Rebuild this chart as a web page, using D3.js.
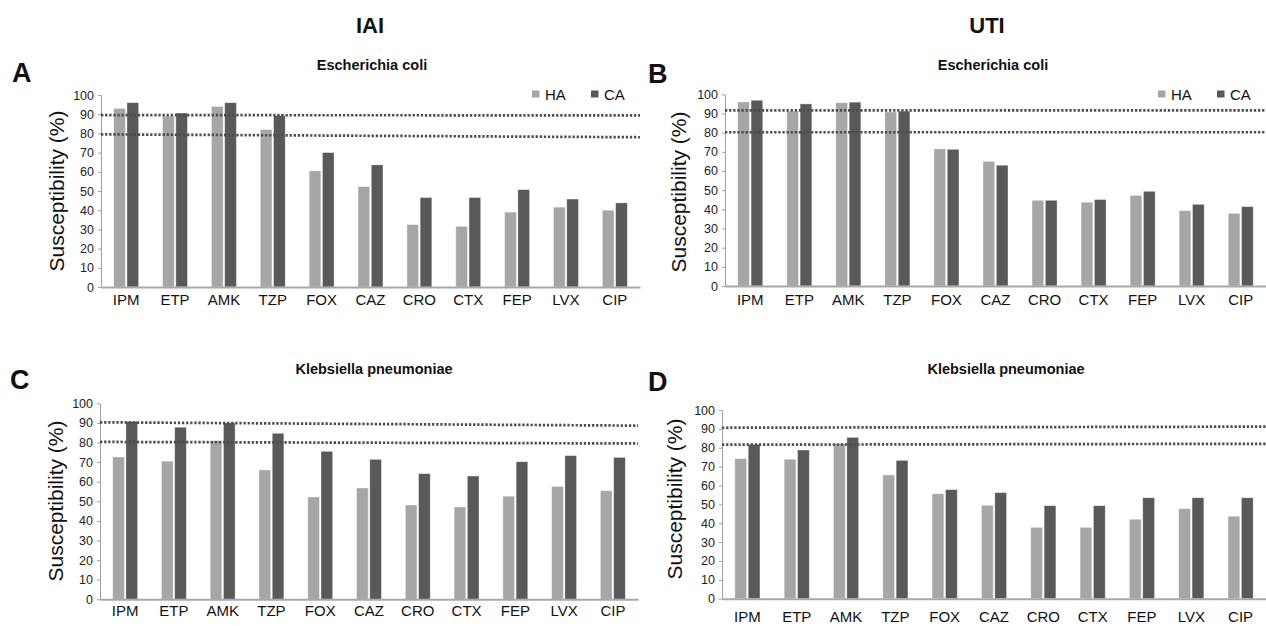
<!DOCTYPE html>
<html>
<head>
<meta charset="utf-8">
<script src="https://cdn.jsdelivr.net/npm/d3@7"></script>
<style>
  body { margin: 0; background: #fff; }
  text { font-family: "Liberation Sans", Arial, sans-serif; }
</style>
</head>
<body>
<svg id="chart" width="1266" height="626"></svg>
<script>
// drug categories and series
const categories = ["IPM", "ETP", "AMK", "TZP", "FOX", "CAZ", "CRO", "CTX", "FEP", "LVX", "CIP"];
const seriesNames = ["HA", "CA"];
const yTicks = [0, 10, 20, 30, 40, 50, 60, 70, 80, 90, 100];

// A: IAI, Escherichia coli
const iaiEcoliHA = [93, 89, 94, 82, 60.5, 52.3, 32.5, 31.6, 39, 41.6, 40];
const iaiEcoliCA = [96, 90.6, 96, 89.3, 70, 63.6, 46.6, 46.6, 50.7, 45.8, 43.8];
const iaiEcoliCut = [[89.5, 89.4], [79.5, 78]];

// B: UTI, Escherichia coli
const utiEcoliHA = [96, 91.2, 95.6, 90.8, 71.5, 65, 44.7, 43.7, 47.3, 39.3, 37.9];
const utiEcoliCA = [96.9, 95, 95.9, 91.2, 71.3, 63, 44.7, 45.1, 49.4, 42.6, 41.4];
const utiEcoliCut = [[91.6, 91.6], [80.2, 80.2]];

// C: IAI, Klebsiella pneumoniae
const iaiKlebHA = [72.6, 70.5, 81, 66, 52.2, 56.8, 48.1, 47.1, 52.6, 57.6, 55.4];
const iaiKlebCA = [90.8, 87.8, 90, 84.7, 75.5, 71.4, 64.1, 62.9, 70.2, 73.3, 72.4];
const iaiKlebCut = [[90.3, 88.6], [80.3, 79.5]];

// D: UTI, Klebsiella pneumoniae
const utiKlebHA = [74.2, 73.9, 82.3, 65.6, 55.6, 49.5, 37.8, 37.8, 42.1, 47.7, 43.7];
const utiKlebCA = [81.8, 78.8, 85.5, 73.3, 57.8, 56.2, 49.3, 49.3, 53.5, 53.5, 53.5];
const utiKlebCut = [[90.6, 91.2], [81.6, 82.1]];

const colors = { HA: "#a6a6a6", CA: "#595959" };

const panels = [
  { letter: "A", title: "Escherichia coli", ha: iaiEcoliHA, ca: iaiEcoliCA, cut: iaiEcoliCut,
    left: 101, right: 640, y100: 95, y0: 287, labelPad: 7, legend: true,
    letterX: 12, letterY: 82, titleX: 372, titleY: 70, ylabX: 56, ylabY: 191, legX: 532 },
  { letter: "B", title: "Escherichia coli", ha: utiEcoliHA, ca: utiEcoliCA, cut: utiEcoliCut,
    left: 725, right: 1266, y100: 94.3, y0: 286, labelPad: 8, legend: true,
    letterX: 648, letterY: 83, titleX: 993, titleY: 70, ylabX: 678, ylabY: 192, legX: 1158 },
  { letter: "C", title: "Klebsiella pneumoniae", ha: iaiKlebHA, ca: iaiKlebCA, cut: iaiKlebCut,
    left: 100, right: 638, y100: 403.3, y0: 599.3, labelPad: 6, legend: false,
    letterX: 10, letterY: 389, titleX: 374, titleY: 374, ylabX: 55, ylabY: 501 },
  { letter: "D", title: "Klebsiella pneumoniae", ha: utiKlebHA, ca: utiKlebCA, cut: utiKlebCut,
    left: 722, right: 1266, y100: 410, y0: 598.7, labelPad: 13, legend: false,
    letterX: 648, letterY: 391, titleX: 1006, titleY: 374, ylabX: 674, ylabY: 499 }
];

const svg = d3.select("#chart");

// column headers
svg.append("text").attr("x", 370).attr("y", 33).attr("text-anchor", "middle")
  .attr("font-size", 22).attr("font-weight", "bold").attr("fill", "#111").text("IAI");
svg.append("text").attr("x", 987).attr("y", 33).attr("text-anchor", "middle")
  .attr("font-size", 22).attr("font-weight", "bold").attr("fill", "#111").text("UTI");

panels.forEach(drawPanel);

function drawPanel(p) {
  const x0 = d3.scaleBand().domain(categories).range([p.left, p.right])
    .paddingInner(0.49).paddingOuter(0.26);
  const x1 = d3.scaleBand().domain(seriesNames).range([0, x0.bandwidth()]).paddingInner(0.12);
  const y = d3.scaleLinear().domain([0, 100]).range([p.y0, p.y100]);
  const g = svg.append("g");

  g.append("text").attr("x", p.letterX).attr("y", p.letterY)
    .attr("font-size", 27).attr("font-weight", "bold").attr("fill", "#111").text(p.letter);

  g.append("text").attr("x", p.titleX).attr("y", p.titleY).attr("text-anchor", "middle")
    .attr("font-size", 14.5).attr("font-weight", "bold").attr("fill", "#111").text(p.title);

  g.append("text")
    .attr("transform", "translate(" + p.ylabX + "," + p.ylabY + ") rotate(-90)")
    .attr("text-anchor", "middle").attr("dominant-baseline", "central")
    .attr("font-size", 21).attr("fill", "#111").text("Susceptibility (%)");

  // y axis
  const ya = g.append("g").attr("transform", "translate(" + p.left + ",0)")
    .call(d3.axisLeft(y).tickValues(yTicks).tickSize(3).tickSizeOuter(0).tickPadding(4));
  ya.select(".domain").attr("stroke", "#a0a0a0");
  ya.selectAll(".tick line").attr("stroke", "#a0a0a0");
  ya.selectAll(".tick text").attr("font-size", 12.5).attr("fill", "#222")
    .style("font-family", "'Liberation Sans', Arial, sans-serif");

  // bars
  const rows = categories.map((c, i) => ({ cat: c, HA: p.ha[i], CA: p.ca[i] }));
  const grp = g.selectAll(".cat").data(rows).enter().append("g")
    .attr("transform", d => "translate(" + x0(d.cat) + ",0)");
  grp.selectAll("rect").data(d => seriesNames.map(s => ({ s: s, v: d[s] }))).enter()
    .append("rect")
    .attr("x", d => x1(d.s))
    .attr("y", d => y(d.v))
    .attr("width", x1.bandwidth())
    .attr("height", d => y(0) - y(d.v))
    .attr("fill", d => colors[d.s])
    .attr("stroke", "#ffffff").attr("stroke-opacity", 0.45).attr("stroke-width", 0.8);

  // x axis
  const xa = g.append("g").attr("transform", "translate(0," + p.y0 + ")")
    .call(d3.axisBottom(x0).tickSize(0).tickSizeOuter(0).tickPadding(p.labelPad));
  xa.select(".domain").attr("stroke", "#a8a8a8").attr("stroke-width", 2);
  xa.selectAll(".tick text").attr("font-size", 15).attr("fill", "#111")
    .style("font-family", "'Liberation Sans', Arial, sans-serif");

  // dotted breakpoint lines
  const line = d3.line().x(d => d[0]).y(d => y(d[1]));
  p.cut.forEach(c => {
    g.append("path")
      .attr("d", line([[p.left, c[0]], [p.right, c[1]]]))
      .attr("fill", "none").attr("stroke", "#4d4d4d").attr("stroke-width", 2.7)
      .attr("stroke-dasharray", "2.3,1.8");
  });

  if (p.legend) {
    const lg = g.append("g").attr("transform", "translate(" + p.legX + ",0)");
    seriesNames.forEach((s, i) => {
      lg.append("rect").attr("x", i * 59).attr("y", 90.5).attr("width", 7.5).attr("height", 7)
        .attr("fill", colors[s]);
      lg.append("text").attr("x", i * 59 + 13).attr("y", 100).attr("font-size", 15)
        .attr("fill", "#111").text(s);
    });
  }
}
</script>
</body>
</html>
